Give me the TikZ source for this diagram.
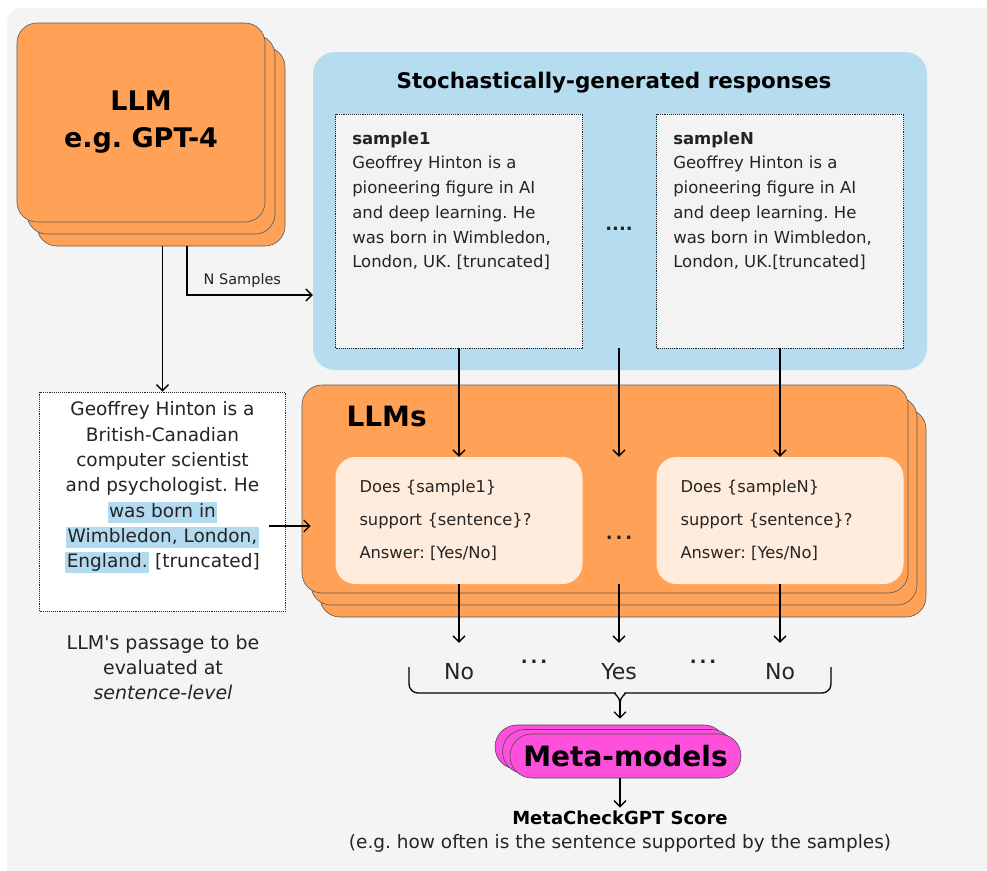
\documentclass[tikz,border=0pt]{standalone}
\usepackage{fontspec}
\setmainfont{DejaVu Sans}[Ligatures=TeXOff]
\usetikzlibrary{arrows.meta,shadows,calc}
\definecolor{bggray}{HTML}{F4F4F4}
\definecolor{llmorange}{HTML}{FFA257}
\definecolor{respblue}{HTML}{B6DCEF}
\definecolor{hlblue}{HTML}{B3DAEF}
\definecolor{sampgray}{HTML}{F3F3F3}
\definecolor{askpeach}{HTML}{FFECDC}
\definecolor{metapink}{HTML}{FF4FDD}
\definecolor{inkgray}{HTML}{242424}
\newcommand{\hlblue}[1]{{\fboxsep=0pt\colorbox{hlblue}{\rule[-5.5pt]{0pt}{21pt}\kern1.5pt#1\kern1.5pt}}}
\newcommand{\spreaddots}{.\kern3pt.\kern3pt.}
\frenchspacing
\tikzset{
  card/.style={draw=black!65, fill=llmorange, line width=0.6pt, rounded corners=20pt},
  dotbox/.style={draw=black!85, densely dotted, line width=0.9pt},
  sampbox/.style={dotbox, fill=sampgray, minimum width=247pt, minimum height=234pt},
  samptext/.style={align=left, inner sep=0pt, text=inkgray, font=\fontsize{16.5}{24.7}\selectfont},
  ask/.style={fill=askpeach, rounded corners=20pt, minimum height=127pt, text width=199pt,
    inner xsep=24pt, align=left, text=inkgray, font=\fontsize{16.3}{33}\selectfont},
  ans/.style={inner sep=0pt, minimum height=58pt, text=inkgray, font=\fontsize{22}{25}\selectfont},
  dots/.style={inner sep=0pt, text=inkgray, font=\bfseries\fontsize{18}{20}\selectfont},
  arr/.style={-{Straight Barb[length=6pt,width=12pt]}, line width=1.3pt},
  brace/.style={line width=1.3pt, rounded corners=9pt},
  pill/.style={draw=black!70, fill=metapink, line width=0.6pt, rounded corners=22pt,
    minimum width=231pt, minimum height=44pt, font=\bfseries\fontsize{28}{30}\selectfont}
}
\begin{document}
\begin{tikzpicture}[x=1pt,y=-1pt]
\useasboundingbox (0,0) rectangle (987,870);
\fill[bggray, rounded corners=14pt] (7,8) rectangle (1010,895);

\node[card, double copy shadow={shadow xshift=10pt, shadow yshift=-12pt}, minimum width=248pt,
  minimum height=199pt, align=center, font=\bfseries\fontsize{27}{37}\selectfont] (llm) at (141,122.5) {LLM\\e.g. GPT-4};

\node[dotbox, fill=white, minimum width=246pt, minimum height=219pt] (passage) at (162.5,501.5) {};
\node[anchor=north, align=center, inner sep=0pt, text=inkgray, font=\fontsize{18.5}{25.3}\selectfont] (passtxt)
  at ($(passage.north)+(0,10)$) {Geoffrey Hinton is a\\British-Canadian\\computer scientist\\and psychologist. He\\
  \hlblue{was born in}\\\hlblue{Wimbledon, London,}\\\hlblue{England.} [truncated]};
\node[align=center, text=inkgray, font=\fontsize{19}{25}\selectfont] (passnote) at (163,667)
  {LLM's passage to be\\evaluated at\\\textit{sentence-level}};

\draw[arr] ($(llm.south -| passage.north)+(0,24)$) -- (passage.north);

\node[fill=respblue, rounded corners=22pt, minimum width=614pt, minimum height=318pt] (resp) at (620,211) {};
\node[font=\bfseries\fontsize{21.5}{25}\selectfont] (resptitle) at (614,83) {Stochastically-generated responses};
\draw[arr] ($(llm.south)+(46,24)$) |- (resp.west |- 0,295)
  node[pos=0.72, above=4pt, text=inkgray, font=\fontsize{14.5}{15}\selectfont] {N Samples};

\node[sampbox] (s1) at (459,231) {};
\node[sampbox] (sN) at (780,231) {};
\node[samptext, anchor=north west] (s1txt) at ($(s1.north west)+(17,18)$)
  {\textbf{sample1}\\Geoffrey Hinton is a\\pioneering figure in AI\\and deep learning. He\\was born in Wimbledon,\\London, UK. [truncated]};
\node[samptext, anchor=north west] (sNtxt) at ($(sN.north west)+(17,18)$)
  {\textbf{sampleN}\\Geoffrey Hinton is a\\pioneering figure in AI\\and deep learning. He\\was born in Wimbledon,\\London, UK.[truncated]};
\node[dots] (rdots) at (619,229) {....};

\node[card, double copy shadow={shadow xshift=9pt, shadow yshift=-12pt}, minimum width=606pt,
  minimum height=208pt] (llms) at (605,489) {};
\node[anchor=west, font=\bfseries\fontsize{28}{30}\selectfont] (llmstitle) at (343,416) {LLMs};
\node[ask] (ask1) at (459,520.5) {Does \{sample1\}\\support \{sentence\}?\\Answer: [Yes/No]};
\node[ask] (askN) at (780,520.5) {Does \{sampleN\}\\support \{sentence\}?\\Answer: [Yes/No]};
\node[dots] (ldots) at (619,538) {\spreaddots};

\draw[arr] (s1) -- (ask1);
\draw[arr] (sN) -- (askN);
\draw[arr] (rdots |- s1.south) -- (rdots |- ask1.north);
\draw[arr] ($(passage.east)+(-17,24.5)$) -- ($(llms.west)+(9,37)$);

\node[ans] (no1) at (ask1 |- 0,672) {No};
\node[ans] (yes) at (rdots |- 0,672) {Yes};
\node[ans] (noN) at (askN |- 0,672) {No};
\node[dots] (ad1) at (534,662) {\spreaddots};
\node[dots] (ad2) at (703,662) {\spreaddots};
\draw[arr] (ask1) -- (no1);
\draw[arr] (askN) -- (noN);
\draw[arr] (rdots |- ask1.south) -- (yes);

\coordinate (bmid) at (620,703);
\draw[brace] (409,667) |- (606,693) to[out=0,in=90] (bmid);
\draw[brace] (831,667) |- (634,693) to[out=180,in=90] (bmid);

\node[pill, double copy shadow={shadow xshift=-7.5pt, shadow yshift=4.5pt}] (meta) at (625.5,756) {Meta-models};
\draw[arr, shorten >=15pt] (bmid) -- (bmid |- meta.north);

\node[font=\bfseries\fontsize{18}{20}\selectfont] (score) at (620,818) {MetaCheckGPT Score};
\node[text=inkgray, font=\fontsize{18.5}{20}\selectfont] (scorenote) at (620,843)
  {(e.g. how often is the sentence supported by the samples)};
\draw[arr] (score.north |- meta.south) -- (score.north);
\end{tikzpicture}
\end{document}
